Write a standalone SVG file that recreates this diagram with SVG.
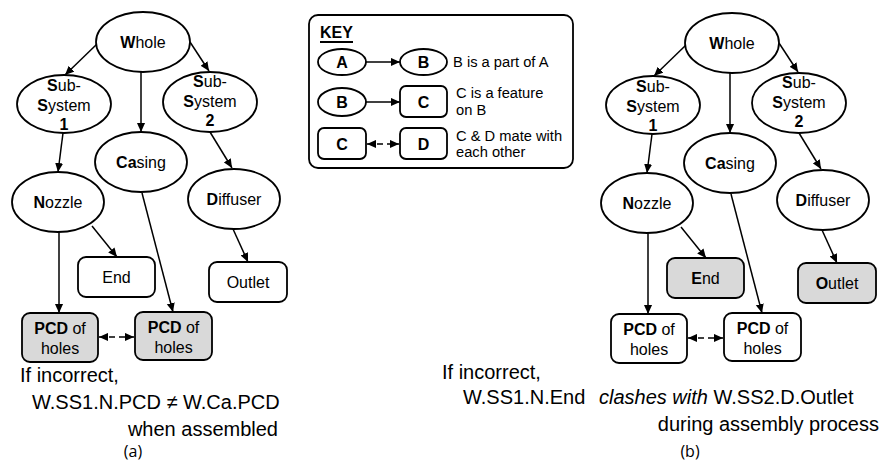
<svg xmlns="http://www.w3.org/2000/svg" width="881" height="461" viewBox="0 0 881 461">
<style>
.n{fill:#fff;stroke:#000;stroke-width:1.8}
.g{fill:#d9d9d9;stroke:#000;stroke-width:1.8}
.t{font-family:"Liberation Sans",Arial,sans-serif;font-size:16px;fill:#000;text-anchor:middle}
.b{font-weight:bold}
.kh{font-family:"Liberation Sans",Arial,sans-serif;font-size:16px;font-weight:bold;fill:#000}
.k{font-family:"Liberation Sans",Arial,sans-serif;font-size:14.7px;fill:#000}
.c{font-family:"Liberation Sans",Arial,sans-serif;font-size:20px;fill:#000}
.cap{font-family:"Open Sans","Liberation Sans",sans-serif;font-size:16px;fill:#000;text-anchor:middle}
.l{fill:none;stroke:#000;stroke-width:1.5;marker-end:url(#ah)}
.d{fill:none;stroke:#000;stroke-width:1.5;stroke-dasharray:6,4;marker-end:url(#ah);marker-start:url(#ah)}
</style>
<defs>
<marker id="ah" viewBox="0 0 10 10" refX="10" refY="5" markerWidth="9" markerHeight="9" markerUnits="userSpaceOnUse" orient="auto-start-reverse">
<path d="M0,0.5 L10,5 L0,9.5 z" fill="#000"/>
</marker>
</defs>

<!-- Key frame -->
<g id="key">
<rect x="309" y="15" width="264" height="153" rx="9" fill="#fff" stroke="#000" stroke-width="1.8"/>
<text class="kh" x="320" y="38">KEY</text>
<line x1="320" y1="42" x2="353" y2="42" stroke="#000" stroke-width="1.8"/>
</g>

<g id="connectors">
<g id="conn-a">
<line class="l" x1="97" y1="44" x2="65" y2="75"/>
<line class="l" x1="141" y1="72" x2="141" y2="132"/>
<line class="l" x1="190" y1="42" x2="209" y2="71"/>
<line class="l" x1="63" y1="133" x2="58" y2="172"/>
<line class="l" x1="210" y1="132" x2="232" y2="168"/>
<line class="l" x1="142" y1="193" x2="173" y2="312"/>
<line class="l" x1="92" y1="226" x2="117" y2="257"/>
<line class="l" x1="59" y1="232" x2="59" y2="313"/>
<line class="l" x1="233" y1="229" x2="248" y2="262"/>
<line class="d" x1="99" y1="337" x2="134" y2="337"/>
</g>
<g id="conn-b" transform="translate(589,1)">
<line class="l" x1="97" y1="44" x2="65" y2="75"/>
<line class="l" x1="141" y1="72" x2="141" y2="132"/>
<line class="l" x1="190" y1="42" x2="209" y2="71"/>
<line class="l" x1="63" y1="133" x2="58" y2="172"/>
<line class="l" x1="210" y1="132" x2="232" y2="168"/>
<line class="l" x1="142" y1="193" x2="173" y2="312"/>
<line class="l" x1="92" y1="226" x2="117" y2="257"/>
<line class="l" x1="59" y1="232" x2="59" y2="313"/>
<line class="l" x1="233" y1="229" x2="248" y2="262"/>
<line class="d" x1="99" y1="337" x2="134" y2="337"/>
</g>
<g id="conn-key">
<line class="l" x1="366" y1="62" x2="400" y2="62"/>
<line class="l" x1="366" y1="102" x2="400" y2="102"/>
<line class="d" x1="367" y1="144" x2="399" y2="144"/>
</g>
</g>

<!-- Diagram (a) -->
<g id="a-whole"><ellipse class="n" cx="143" cy="42" rx="47" ry="30"/><text class="t" x="143" y="48"><tspan class="b">W</tspan>hole</text></g>
<g id="a-ss1"><ellipse class="n" cx="64" cy="104" rx="47" ry="29"/><text class="t" x="64" y="91"><tspan class="b">S</tspan>ub-</text><text class="t" x="64" y="111"><tspan class="b">S</tspan>ystem</text><text class="t b" x="64" y="130">1</text></g>
<g id="a-casing"><ellipse class="n" cx="141" cy="162" rx="46" ry="30"/><text class="t" x="141" y="168"><tspan class="b">Ca</tspan>sing</text></g>
<g id="a-ss2"><ellipse class="n" cx="210" cy="102" rx="47" ry="30"/><text class="t" x="210" y="87"><tspan class="b">S</tspan>ub-</text><text class="t" x="210" y="107"><tspan class="b">S</tspan>ystem</text><text class="t b" x="210" y="126">2</text></g>
<g id="a-nozzle"><ellipse class="n" cx="58" cy="202" rx="46" ry="30"/><text class="t" x="58" y="208"><tspan class="b">N</tspan>ozzle</text></g>
<g id="a-diffuser"><ellipse class="n" cx="234" cy="199" rx="46" ry="30"/><text class="t" x="234" y="205"><tspan class="b">D</tspan>iffuser</text></g>
<g id="a-end"><rect class="n" x="78" y="257" width="77" height="40" rx="8"/><text class="t" x="116.5" y="283">End</text></g>
<g id="a-outlet"><rect class="n" x="209" y="262" width="78" height="40" rx="8"/><text class="t" x="248" y="288">Outlet</text></g>
<g id="a-pcd1"><rect class="g" x="22" y="313" width="76" height="49" rx="8"/><text class="t" x="60" y="334"><tspan class="b">PCD</tspan> of</text><text class="t" x="60" y="354">holes</text></g>
<g id="a-pcd2"><rect class="g" x="135" y="312" width="77" height="48" rx="8"/><text class="t" x="173.5" y="333"><tspan class="b">PCD</tspan> of</text><text class="t" x="173.5" y="353">holes</text></g>
<g id="a-caption">
<text class="c" x="20" y="382">If incorrect,</text>
<text class="c" x="32" y="409">W.SS1.N.PCD ≠ W.Ca.PCD</text>
<text class="c" x="278" y="436" text-anchor="end">when assembled</text>
<text class="cap" x="133" y="457">(a)</text>
</g>

<!-- Diagram (b) -->
<g transform="translate(589,1)">
<g id="b-whole"><ellipse class="n" cx="143" cy="42" rx="47" ry="30"/><text class="t" x="143" y="48"><tspan class="b">W</tspan>hole</text></g>
<g id="b-ss1"><ellipse class="n" cx="64" cy="104" rx="47" ry="29"/><text class="t" x="64" y="91"><tspan class="b">S</tspan>ub-</text><text class="t" x="64" y="111"><tspan class="b">S</tspan>ystem</text><text class="t b" x="64" y="130">1</text></g>
<g id="b-casing"><ellipse class="n" cx="141" cy="162" rx="46" ry="30"/><text class="t" x="141" y="168"><tspan class="b">Ca</tspan>sing</text></g>
<g id="b-ss2"><ellipse class="n" cx="210" cy="102" rx="47" ry="30"/><text class="t" x="210" y="87"><tspan class="b">S</tspan>ub-</text><text class="t" x="210" y="107"><tspan class="b">S</tspan>ystem</text><text class="t b" x="210" y="126">2</text></g>
<g id="b-nozzle"><ellipse class="n" cx="58" cy="202" rx="46" ry="30"/><text class="t" x="58" y="208"><tspan class="b">N</tspan>ozzle</text></g>
<g id="b-diffuser"><ellipse class="n" cx="234" cy="199" rx="46" ry="30"/><text class="t" x="234" y="205"><tspan class="b">D</tspan>iffuser</text></g>
<g id="b-end"><rect class="g" x="78" y="257" width="77" height="40" rx="8"/><text class="t" x="116.5" y="283"><tspan class="b">E</tspan>nd</text></g>
<g id="b-outlet"><rect class="g" x="209" y="262" width="78" height="40" rx="8"/><text class="t" x="248" y="288"><tspan class="b">O</tspan>utlet</text></g>
<g id="b-pcd1"><rect class="n" x="22" y="313" width="76" height="49" rx="8"/><text class="t" x="60" y="334"><tspan class="b">PCD</tspan> of</text><text class="t" x="60" y="354">holes</text></g>
<g id="b-pcd2"><rect class="n" x="135" y="312" width="77" height="48" rx="8"/><text class="t" x="173.5" y="333"><tspan class="b">PCD</tspan> of</text><text class="t" x="173.5" y="353">holes</text></g>
</g>
<g id="b-caption">
<text class="c" x="442" y="379">If incorrect,</text>
<text class="c" x="463" y="404">W.SS1.N.End  <tspan font-style="italic" x="599">clashes with</tspan> W.SS2.D.Outlet</text>
<text class="c" x="879" y="431" text-anchor="end">during assembly process</text>
<text class="cap" x="690" y="457">(b)</text>
</g>

<!-- Key entries -->
<g id="key-a1"><ellipse class="n" cx="342" cy="62" rx="24" ry="13"/><text class="t b" x="342" y="68">A</text></g>
<g id="key-b1"><ellipse class="n" cx="423.5" cy="62" rx="23.5" ry="13"/><text class="t b" x="423.5" y="68">B</text></g>
<text class="k" x="453" y="67">B is a part of A</text>
<g id="key-b2"><ellipse class="n" cx="342" cy="102" rx="24" ry="14"/><text class="t b" x="342" y="108">B</text></g>
<g id="key-c2"><rect class="n" x="400" y="86" width="47" height="31" rx="6"/><text class="t b" x="423.5" y="108">C</text></g>
<text class="k" x="456" y="98">C is a feature</text>
<text class="k" x="456" y="115">on B</text>
<g id="key-c3"><rect class="n" x="318" y="128" width="48" height="31" rx="6"/><text class="t b" x="342" y="150">C</text></g>
<g id="key-d3"><rect class="n" x="400" y="128" width="47" height="31" rx="6"/><text class="t b" x="423.5" y="150">D</text></g>
<text class="k" x="456" y="141">C &amp; D mate with</text>
<text class="k" x="456" y="157">each other</text>
</svg>
